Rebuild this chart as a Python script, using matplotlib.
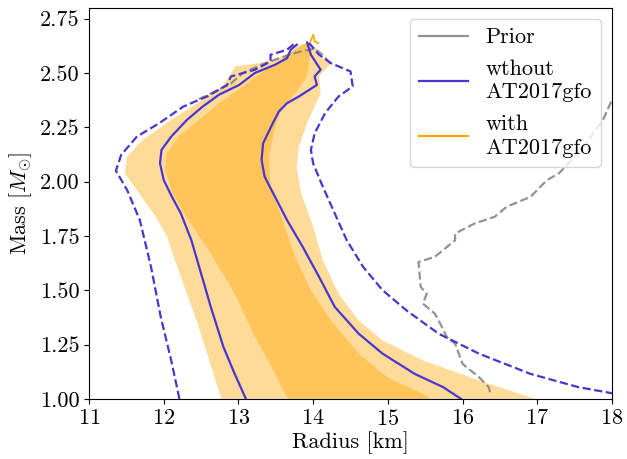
import numpy as np
import matplotlib
matplotlib.use("Agg")
import matplotlib.pyplot as plt

plt.rcParams["font.family"] = "serif"
plt.rcParams["font.serif"] = ["cmr10", "DejaVu Serif"]
plt.rcParams["mathtext.fontset"] = "cm"
plt.rcParams["axes.formatter.use_mathtext"] = True
plt.rcParams["axes.unicode_minus"] = False

# 90% band with AT2017gfo: left edge (bottom -> top), right edge (top -> bottom)
m90_with_l = [1.00, 1.177, 1.33, 1.484, 1.638, 1.75, 1.846, 1.946, 2.038, 2.115, 2.192, 2.284, 2.376, 2.438, 2.515,
              2.53, 2.545, 2.568, 2.607, 2.63, 2.64]
r90_with_l = [12.77, 12.61, 12.47, 12.31, 12.15, 12.04, 11.88, 11.67, 11.48, 11.51, 11.72, 12.10, 12.52, 12.79, 12.93,
              12.95, 13.27, 13.54, 13.76, 13.86, 13.93]
m90_with_r = [2.64, 2.622, 2.576, 2.545, 2.484, 2.407, 2.269, 2.161, 2.069, 1.946, 1.792, 1.638, 1.484, 1.361, 1.269,
              1.177, 1.085, 1.00]
r90_with_r = [13.93, 14.02, 14.08, 14.24, 14.08, 14.10, 13.92, 13.81, 13.78, 13.84, 14.00, 14.13, 14.34, 14.61, 14.93,
              15.47, 16.22, 16.97]

# 50% band with AT2017gfo
m50_with_l = [1.00, 1.115, 1.284, 1.484, 1.669, 1.823, 1.946, 2.053, 2.13, 2.207, 2.284, 2.361, 2.438, 2.507, 2.576,
              2.622, 2.64]
r50_with_l = [13.66, 13.49, 13.22, 12.95, 12.63, 12.33, 12.12, 12.02, 12.04, 12.20, 12.47, 12.74, 13.06, 13.33, 13.65,
              13.78, 13.92]
m50_with_r = [2.64, 2.607, 2.484, 2.407, 2.345, 2.253, 2.115, 1.976, 1.823, 1.654, 1.50, 1.361, 1.208, 1.10, 1.023, 1.00]
r50_with_r = [13.92, 13.97, 13.92, 13.76, 13.59, 13.49, 13.41, 13.43, 13.59, 13.76, 13.97, 14.24, 14.61, 14.99, 15.47,
              15.57]

# 50% contour without AT2017gfo (solid)
m50_wo_l = [1.00, 1.115, 1.238, 1.423, 1.577, 1.73, 1.853, 1.93, 2.007, 2.084, 2.146, 2.207, 2.284, 2.345, 2.40, 2.445,
            2.50, 2.538, 2.568, 2.607, 2.63]
r50_wo_l = [13.10, 12.95, 12.80, 12.63, 12.50, 12.37, 12.23, 12.11, 12.00, 11.95, 11.97, 12.10, 12.31, 12.52, 12.74,
            13.01, 13.22, 13.49, 13.65, 13.70, 13.78]
m50_wo_r = [2.64, 2.584, 2.515, 2.484, 2.445, 2.392, 2.361, 2.322, 2.269, 2.176, 2.10, 2.023, 1.93, 1.823, 1.70, 1.561,
            1.423, 1.30, 1.208, 1.115, 1.054, 1.00]
r50_wo_r = [13.92, 13.97, 14.10, 14.02, 14.05, 13.81, 13.65, 13.54, 13.46, 13.33, 13.31, 13.35, 13.49, 13.65, 13.86,
            14.08, 14.29, 14.61, 14.93, 15.36, 15.74, 15.98]

# 90% contour without AT2017gfo (dashed)
m90_wo_l = [1.00, 1.177, 1.377, 1.607, 1.823, 1.961, 2.05, 2.123, 2.207, 2.269, 2.345, 2.392, 2.445, 2.484, 2.515,
            2.553, 2.584, 2.607, 2.638]
r90_wo_l = [12.21, 12.10, 11.96, 11.83, 11.68, 11.51, 11.36, 11.43, 11.64, 11.94, 12.26, 12.58, 12.85, 12.90, 13.22,
            13.43, 13.43, 13.65, 13.76]
m90_wo_r = [2.64, 2.584, 2.545, 2.507, 2.438, 2.392, 2.315, 2.222, 2.146, 2.084, 1.976, 1.853, 1.73, 1.607, 1.50,
            1.407, 1.30, 1.208, 1.115, 1.054, 1.026, 1.00]
r90_wo_r = [13.94, 14.08, 14.24, 14.50, 14.53, 14.34, 14.16, 14.02, 13.97, 14.00, 14.13, 14.29, 14.45, 14.67, 14.93,
            15.25, 15.68, 16.22, 16.91, 17.55, 18.00, 18.50]

# prior 90% contour (two visible pieces)
m_prior_top = [2.38, 2.395, 2.452, 2.50, 2.538, 2.57, 2.598, 2.612, 2.585, 2.54]
r_prior_top = [12.47, 12.57, 12.90, 13.06, 13.31, 13.56, 13.82, 14.02, 14.12, 14.24]
m_prior_right = [2.45, 2.361, 2.284, 2.15, 2.038, 2.007, 1.93, 1.884, 1.838, 1.807, 1.761, 1.73, 1.654, 1.63, 1.515,
                 1.484, 1.438, 1.392, 1.361, 1.284, 1.254, 1.208, 1.161, 1.10, 1.054, 1.015]
r_prior_right = [18.20, 17.98, 17.88, 17.60, 17.29, 17.13, 16.91, 16.59, 16.43, 16.16, 15.90, 15.90, 15.63, 15.41,
                 15.44, 15.52, 15.47, 15.63, 15.68, 15.79, 15.90, 15.95, 16.00, 16.22, 16.35, 16.38]

# tip of the orange contour line
m_with_tip = [2.64, 2.66, 2.676, 2.645, 2.638]
r_with_tip = [13.96, 13.98, 14.00, 14.02, 14.07]

BLUE = "#4a35d0"
ORANGE = "orange"
FS = 16


def band(rl, ml, rr, mr):
    return np.concatenate([rl, rr]), np.concatenate([ml, mr])


fig = plt.figure(figsize=(6.27, 4.59), dpi=100)
ax = fig.add_axes([0.142, 0.131, 0.834, 0.852])

x90, y90 = band(r90_with_l, m90_with_l, r90_with_r, m90_with_r)
x50, y50 = band(r50_with_l, m50_with_l, r50_with_r, m50_with_r)
ax.fill(x90, y90, color=ORANGE, alpha=0.4, lw=0, zorder=1)
ax.fill(x50, y50, color=ORANGE, alpha=0.4, lw=0, zorder=1)

ax.plot(r_prior_top, m_prior_top, "--", color="gray", alpha=0.85, lw=1.6, zorder=2)
ax.plot(r_prior_right, m_prior_right, "--", color="gray", alpha=0.85, lw=1.6, zorder=2)

ax.plot(r50_wo_l, m50_wo_l, "-", color=BLUE, lw=1.6, zorder=3)
ax.plot(r50_wo_r, m50_wo_r, "-", color=BLUE, lw=1.6, zorder=3)
ax.plot(r90_wo_l, m90_wo_l, "--", color=BLUE, lw=1.6, zorder=3)
ax.plot(r90_wo_r, m90_wo_r, "--", color=BLUE, lw=1.6, zorder=3)
ax.plot(r_with_tip, m_with_tip, "-", color=ORANGE, lw=1.2, zorder=3)

# legend proxies
ax.plot([], [], color="gray", alpha=0.85, lw=1.6, label="Prior")
ax.plot([], [], color=BLUE, lw=1.6, label="wthout\nAT2017gfo")
ax.plot([], [], color=ORANGE, lw=1.6, label="with\nAT2017gfo")
leg = ax.legend(loc="upper right", fontsize=FS, handlelength=2.2, labelspacing=0.55)
for t in leg.get_texts():
    t.set_linespacing(1.25)

ax.set_xlim(11, 18)
ax.set_ylim(1.0, 2.8)
yt = [1.00, 1.25, 1.50, 1.75, 2.00, 2.25, 2.50, 2.75]
ax.set_xticks([11, 12, 13, 14, 15, 16, 17, 18])
ax.set_yticks(yt)
ax.set_yticklabels([f"{v:.2f}" for v in yt])
ax.tick_params(labelsize=FS)
ax.set_xlabel("Radius [km]", fontsize=FS, labelpad=2)
ax.set_ylabel(r"Mass [$M_{\odot}$]", fontsize=FS, labelpad=4)

fig.savefig("out.png", dpi=100)
